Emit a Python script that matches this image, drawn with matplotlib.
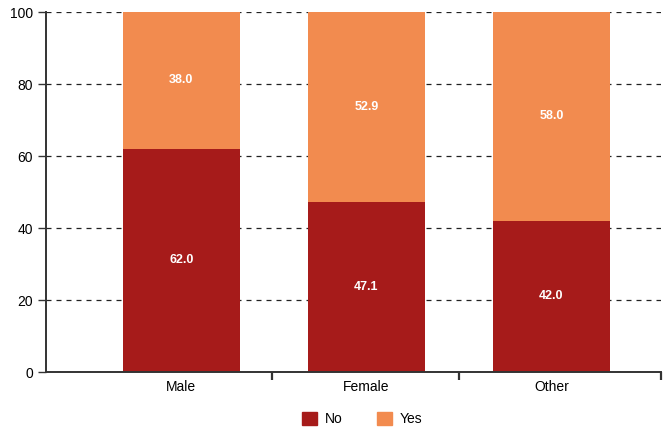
import matplotlib
matplotlib.use("Agg")
import matplotlib.pyplot as plt
from matplotlib.patches import Patch

plt.rcParams["font.family"] = ["Liberation Sans", "DejaVu Sans"]

NO = "#A61B1A"
YES = "#F28B4F"

categories = ["Male", "Female", "Other"]
no_vals = [62.0, 47.1, 42.0]
yes_vals = [38.0, 52.9, 58.0]

fig = plt.figure(figsize=(6.68, 4.28), dpi=100)
ax = fig.add_axes([46 / 668, 1 - 372 / 428, 615 / 668, 360 / 428])

x = list(range(len(categories)))
width = 0.632
ax.bar(x, no_vals, width, color=NO, zorder=2)
ax.bar(x, yes_vals, width, bottom=no_vals, color=YES, zorder=2)

for i, (n, y) in enumerate(zip(no_vals, yes_vals)):
    ax.text(i, n / 2, f"{n:.1f}", ha="center", va="center", color="white",
            fontsize=9, fontweight="bold", zorder=3)
    ax.text(i, n + y / 2, f"{y:.1f}", ha="center", va="center", color="white",
            fontsize=9, fontweight="bold", zorder=3)

ax.set_xlim(-0.732, 2.592)
ax.set_ylim(0, 100)
ax.set_yticks(range(0, 101, 20))
ax.yaxis.grid(True, linestyle=(0, (4, 4)), color="#222222", linewidth=0.9, zorder=0)
ax.set_axisbelow(True)

ax.set_xticks(x)
ax.set_xticklabels(categories)
ax.set_xticks([0.487, 1.5, 2.592], minor=True)
ax.tick_params(axis="x", which="major", length=0, pad=6, labelsize=10)
ax.tick_params(axis="x", which="minor", length=6, width=1.6, direction="out", color="#333333")
ax.tick_params(axis="y", length=6, width=1, labelsize=10, color="#333333")

for side in ("top", "right"):
    ax.spines[side].set_visible(False)
ax.spines["left"].set_color("#333333")
ax.spines["bottom"].set_color("#333333")
ax.spines["left"].set_linewidth(1.4)
ax.spines["bottom"].set_linewidth(1.4)

handles = [Patch(color=NO, label="No"), Patch(color=YES, label="Yes")]
fig.legend(handles=handles, loc="center", bbox_to_anchor=(0.542, 1 - 419 / 428),
           ncol=2, frameon=False, fontsize=10, handlelength=1.1, handleheight=1.1,
           columnspacing=2.5, handletextpad=0.55)

fig.savefig("out.png", dpi=100)
